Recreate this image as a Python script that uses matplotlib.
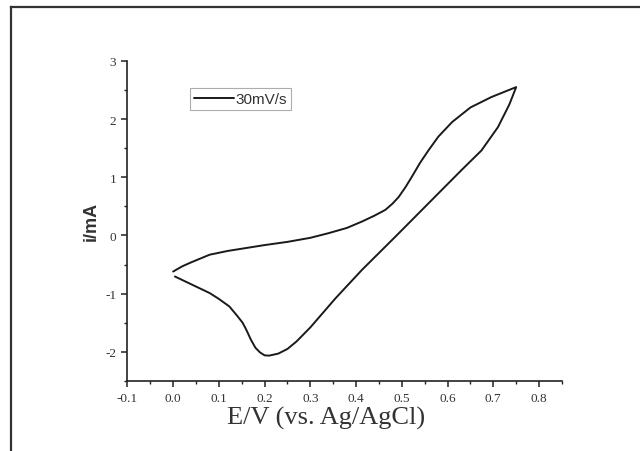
import matplotlib
matplotlib.use('Agg')
import matplotlib.pyplot as plt
from matplotlib.lines import Line2D
from matplotlib.ticker import MultipleLocator, FormatStrFormatter

plt.rcParams['axes.unicode_minus'] = False

# forward scan, 0.0 V -> 0.75 V
e_fwd = [0.0, 0.02, 0.04, 0.08, 0.12, 0.16, 0.20, 0.25, 0.30, 0.34, 0.38, 0.413,
         0.44, 0.464, 0.48, 0.493, 0.508, 0.522, 0.54, 0.558, 0.58, 0.61, 0.65,
         0.696, 0.75]
i_fwd = [-0.62, -0.53, -0.46, -0.33, -0.265, -0.215, -0.165, -0.11, -0.04, 0.04, 0.13, 0.24,
         0.34, 0.44, 0.55, 0.66, 0.83, 1.01, 1.25, 1.46, 1.70, 1.95, 2.20,
         2.38, 2.55]

# reverse scan, 0.75 V -> 0.0 V
e_rev = [0.75, 0.735, 0.71, 0.674, 0.63, 0.558, 0.486, 0.413, 0.355, 0.30, 0.27, 0.25,
         0.23, 0.21, 0.20, 0.19, 0.18, 0.17, 0.16, 0.152, 0.14, 0.123, 0.10, 0.08,
         0.04, 0.004]
i_rev = [2.55, 2.25, 1.86, 1.46, 1.12, 0.55, -0.02, -0.59, -1.08, -1.58, -1.82, -1.95,
         -2.03, -2.065, -2.06, -2.01, -1.93, -1.79, -1.62, -1.50, -1.38, -1.22, -1.09, -0.99,
         -0.84, -0.705]

e_all = e_fwd + e_rev
i_all = i_fwd + i_rev

fig = plt.figure(figsize=(6.4, 4.52), dpi=100)
ax = fig.add_axes([0.199, 0.155, 0.679, 0.708])

ax.plot(e_all, i_all, color='#1a1a1a', lw=1.4, label='30mV/s',
        solid_joinstyle='round', solid_capstyle='round')

ax.set_xlim(-0.1, 0.85)
ax.set_ylim(-2.5, 3)
ax.spines['top'].set_visible(False)
ax.spines['right'].set_visible(False)
for s in ('left', 'bottom'):
    ax.spines[s].set_linewidth(1.2)
    ax.spines[s].set_color('#222222')

ax.xaxis.set_major_locator(MultipleLocator(0.1))
ax.xaxis.set_minor_locator(MultipleLocator(0.05))
ax.xaxis.set_major_formatter(FormatStrFormatter('%.1f'))
ax.yaxis.set_major_locator(MultipleLocator(1))
ax.yaxis.set_minor_locator(MultipleLocator(0.5))
ax.yaxis.set_major_formatter(FormatStrFormatter('%d'))
ax.tick_params(which='major', direction='out', length=4, width=1.1, color='#222222',
               labelsize=9.5, pad=4, labelcolor='#333333')
ax.tick_params(which='minor', direction='out', length=2.5, width=1.0, color='#222222')
for lab in ax.get_xticklabels() + ax.get_yticklabels():
    lab.set_family('Liberation Serif')

ax.set_xlabel('E/V (vs. Ag/AgCl)', family='Liberation Serif', fontsize=19,
              color='#333333')
ax.xaxis.set_label_coords(0.457, -0.114)
ax.xaxis.label.set_va('center')
ax.set_ylabel('i/mA', family='Liberation Sans', fontsize=13, fontweight='bold',
              color='#333333', labelpad=4)

leg = ax.legend(loc='upper left', bbox_to_anchor=(0.297, 0.803),
                bbox_transform=fig.transFigure, fancybox=False, frameon=True,
                handlelength=2.6, handletextpad=0.15, borderpad=0.25,
                borderaxespad=0, prop={'family': 'Liberation Sans', 'size': 11})
leg.get_frame().set_edgecolor('#999999')
leg.get_frame().set_linewidth(0.8)
for t in leg.get_texts():
    t.set_color('#333333')

# outer frame of the scanned figure
x0 = 11 / 640
y1 = 1 - 8 / 452
fig.add_artist(Line2D([x0, x0], [0, y1], transform=fig.transFigure, color='#333333', lw=1.6))
fig.add_artist(Line2D([x0, 1], [y1, y1], transform=fig.transFigure, color='#333333', lw=1.6))

fig.savefig('out.png', dpi=100)
